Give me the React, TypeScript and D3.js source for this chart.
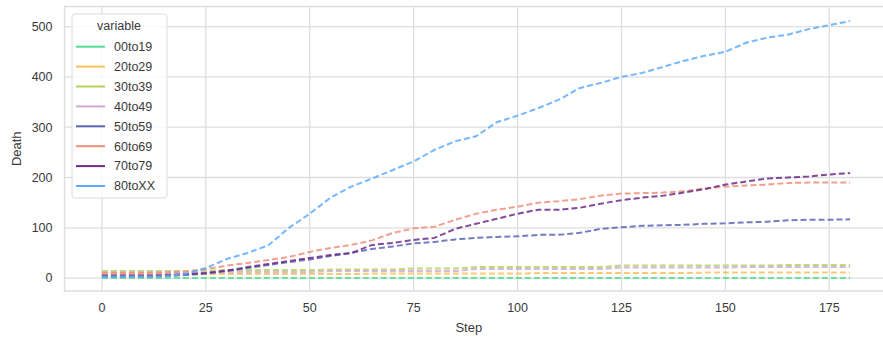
import React from 'react';
import * as d3 from 'd3';

// steps sampled every 5
const steps = d3.range(0, 181, 5);

const ageGroups = ['00to19', '20to29', '30to39', '40to49', '50to59', '60to69', '70to79', '80toXX'];
const colors = ['#52dd93', '#f6c25a', '#b0d55a', '#d3a8d8', '#5a66b5', '#ef8f7b', '#6b2a8a', '#5eaaff'];

const d00to19 = [0, 0, 0, 0, 0, 0, 0, 0, 0, 0, 0, 0, 0, 0, 0, 0, 0, 0, 0, 0, 0, 0, 0, 0, 0, 0, 0, 0, 0, 0, 0, 0, 0, 0, 0, 0, 0];
const d20to29 = [7, 7, 7, 7, 7, 8, 8, 8, 8, 8, 8, 8, 8, 9, 9, 9, 9, 9, 9, 9, 9, 10, 10, 10, 10, 10, 10, 10, 10, 11, 11, 11, 11, 11, 11, 11, 11];
const d30to39 = [14, 14, 14, 14, 14, 15, 16, 16, 16, 16, 16, 17, 17, 17, 17, 19, 19, 19, 22, 22, 22, 22, 22, 22, 22, 25, 25, 25, 25, 25, 25, 25, 25, 26, 26, 26, 26];
const d40to49 = [11, 11, 11, 11, 11, 12, 12, 12, 12, 12, 12, 14, 14, 14, 14, 14, 14, 14, 18, 18, 18, 18, 18, 18, 18, 21, 21, 21, 21, 21, 21, 22, 22, 22, 22, 22, 22];
const d50to59 = [3, 3, 3, 4, 6, 9, 14, 20, 26, 32, 37, 44, 50, 58, 63, 69, 72, 77, 80, 82, 83, 86, 86, 90, 98, 101, 104, 105, 106, 108, 109, 111, 112, 115, 116, 116, 117];
const d60to69 = [10, 10, 10, 11, 13, 18, 25, 30, 36, 42, 52, 60, 66, 75, 90, 99, 102, 116, 128, 136, 142, 150, 153, 157, 164, 168, 169, 170, 173, 178, 182, 184, 186, 189, 190, 190, 190];
const d70to79 = [5, 5, 5, 6, 8, 10, 15, 22, 28, 34, 40, 46, 50, 66, 70, 76, 80, 98, 108, 118, 128, 136, 136, 140, 148, 155, 160, 164, 170, 177, 186, 192, 198, 200, 202, 206, 209];
const d80toXX = [3, 3, 3, 4, 8, 20, 38, 50, 65, 100, 128, 160, 182, 198, 215, 232, 255, 272, 282, 310, 323, 338, 355, 378, 388, 400, 408, 420, 432, 442, 450, 468, 478, 484, 495, 503, 511];

const seriesValues = [d00to19, d20to29, d30to39, d40to49, d50to59, d60to69, d70to79, d80toXX];

const xTicks = [0, 25, 50, 75, 100, 125, 150, 175];
const yTicks = [0, 100, 200, 300, 400, 500];

export default function App() {
  const width = 883;
  const height = 338;
  const margin = { left: 64.5, right: -4.5, top: 6.5, bottom: 47 };

  const x = d3.scaleLinear().domain([-9, 189]).range([margin.left, width - margin.right]);
  const y = d3.scaleLinear().domain([-25.6, 540]).range([height - margin.bottom, margin.top]);

  const line = d3
    .line<number>()
    .x((_, i) => x(steps[i]))
    .y((d) => y(d));

  const font = '"Liberation Sans", Arial, sans-serif';
  const textColor = '#3a3a3a';
  const gridColor = '#dedede';

  const legendX = 72;
  const legendY = 14;

  return (
    <svg
      width={width}
      height={height}
      style={{ position: 'absolute', left: 0, top: 0, background: '#fff' }}
      fontFamily={font}
    >
      {/* grid */}
      {xTicks.map((t) => (
        <line key={'gx' + t} x1={x(t)} x2={x(t)} y1={margin.top} y2={height - margin.bottom} stroke={gridColor} strokeWidth={1.3} />
      ))}
      {yTicks.map((t) => (
        <line key={'gy' + t} x1={margin.left} x2={width - margin.right} y1={y(t)} y2={y(t)} stroke={gridColor} strokeWidth={1.3} />
      ))}
      {/* frame */}
      <rect
        x={margin.left}
        y={margin.top}
        width={width - margin.right - margin.left}
        height={height - margin.bottom - margin.top}
        fill="none"
        stroke={gridColor}
        strokeWidth={1.5}
      />

      {/* lines */}
      {seriesValues.map((vals, i) => (
        <path
          key={ageGroups[i]}
          d={line(vals) || ''}
          fill="none"
          stroke={colors[i]}
          strokeWidth={2}
          strokeOpacity={0.85}
          strokeDasharray="6,3"
        />
      ))}

      {/* tick labels */}
      {xTicks.map((t) => (
        <text key={'tx' + t} x={x(t)} y={height - margin.bottom + 21} textAnchor="middle" fontSize={12.5} fill={textColor}>
          {t}
        </text>
      ))}
      {yTicks.map((t) => (
        <text key={'ty' + t} x={margin.left - 12} y={y(t)} dy="0.35em" textAnchor="end" fontSize={12.5} fill={textColor}>
          {t}
        </text>
      ))}

      {/* axis labels */}
      <text x={(margin.left + 883) / 2 - 5} y={332} textAnchor="middle" fontSize={13} fill={textColor}>
        Step
      </text>
      <text transform={`translate(21, ${(margin.top + height - margin.bottom) / 2}) rotate(-90)`} textAnchor="middle" fontSize={13} fill={textColor}>
        Death
      </text>

      {/* legend */}
      <g transform={`translate(${legendX}, ${legendY})`}>
        <rect x={0} y={0} width={95} height={184} rx={3} fill="#fff" fillOpacity={0.8} stroke="#dcdcdc" strokeWidth={1} />
        <text x={47} y={16} textAnchor="middle" fontSize={12.5} fill={textColor}>
          variable
        </text>
        {ageGroups.map((g, i) => (
          <g key={g} transform={`translate(0, ${32.7 + i * 19.9})`}>
            <line x1={4} x2={33} y1={0} y2={0} stroke={colors[i]} strokeWidth={2} />
            <text x={42} y={0} dy="0.35em" fontSize={12.5} fill={textColor}>
              {g}
            </text>
          </g>
        ))}
      </g>
    </svg>
  );
}
